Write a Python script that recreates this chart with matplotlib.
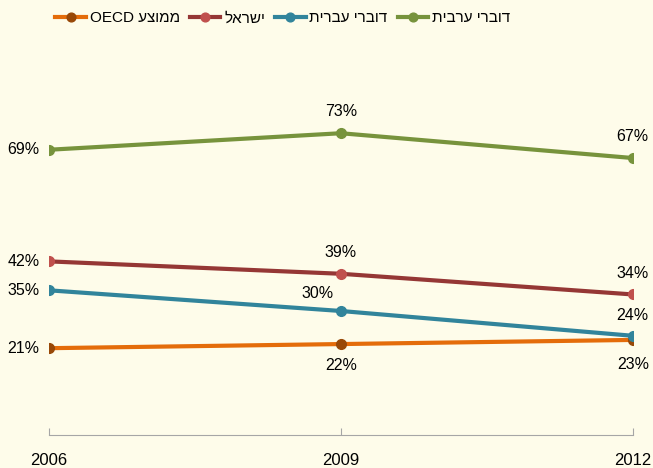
import matplotlib
matplotlib.use('Agg')
from matplotlib import pyplot as plt

# Share of students (percent) by group and year
years = [2006, 2009, 2012]
arabic = [69, 73, 67]
hebrew = [35, 30, 24]
israel = [42, 39, 34]
oecd = [21, 22, 23]

# Hebrew labels in visual (left-to-right) order, matplotlib has no bidi
def rtl(s):
    return s[::-1]

lbl_arabic = rtl('דוברי ערבית')
lbl_hebrew = rtl('דוברי עברית')
lbl_israel = rtl('ישראל')
lbl_oecd = 'OECD ' + rtl('ממוצע')

plt.rcParams['font.family'] = ['Liberation Sans', 'DejaVu Sans']
bg = '#FEFCEA'

fig = plt.figure(figsize=(6.53, 4.68), dpi=100, facecolor=bg)
ax = fig.add_axes([0.075, 0.0705, 0.894, 0.795])
ax.set_facecolor(bg)

x = [0, 1, 2]
lw = 3
ms = 7
ax.plot(x, oecd, '-o', color='#E46C0A', mfc='#984807', mec='#984807', lw=lw, ms=ms, label=lbl_oecd, zorder=3)
ax.plot(x, israel, '-o', color='#953735', mfc='#C0504D', mec='#C0504D', lw=lw, ms=ms, label=lbl_israel, zorder=3)
ax.plot(x, hebrew, '-o', color='#31849B', mfc='#31849B', mec='#31849B', lw=lw, ms=ms, label=lbl_hebrew, zorder=4)
ax.plot(x, arabic, '-o', color='#77933C', mfc='#77933C', mec='#77933C', lw=lw, ms=ms, label=lbl_arabic, zorder=3)

fs = 11.5
# data labels: 2006 left of point
for vals in (arabic, israel, hebrew, oecd):
    ax.annotate(f'{vals[0]}%', (0, vals[0]), xytext=(-7, 0), textcoords='offset points',
                ha='right', va='center', fontsize=fs)
# 2009
ax.annotate(f'{arabic[1]}%', (1, arabic[1]), xytext=(0, 10), textcoords='offset points', ha='center', va='bottom', fontsize=fs)
ax.annotate(f'{israel[1]}%', (1, israel[1]), xytext=(0, 10), textcoords='offset points', ha='center', va='bottom', fontsize=fs)
ax.annotate(f'{hebrew[1]}%', (1, hebrew[1]), xytext=(-5, 7), textcoords='offset points', ha='right', va='bottom', fontsize=fs)
ax.annotate(f'{oecd[1]}%', (1, oecd[1]), xytext=(0, -10), textcoords='offset points', ha='center', va='top', fontsize=fs)
# 2012
ax.annotate(f'{arabic[2]}%', (2, arabic[2]), xytext=(0, 10), textcoords='offset points', ha='center', va='bottom', fontsize=fs)
ax.annotate(f'{israel[2]}%', (2, israel[2]), xytext=(0, 10), textcoords='offset points', ha='center', va='bottom', fontsize=fs)
ax.annotate(f'{hebrew[2]}%', (2, hebrew[2]), xytext=(0, 9), textcoords='offset points', ha='center', va='bottom', fontsize=fs)
ax.annotate(f'{oecd[2]}%', (2, oecd[2]), xytext=(0, -12), textcoords='offset points', ha='center', va='top', fontsize=fs)

ax.set_xlim(0, 2)
ax.set_ylim(0, 90)
ax.set_xticks(x)
ax.set_xticklabels([str(y) for y in years], fontsize=12)
ax.set_yticks([])
for s in ('top', 'right', 'left'):
    ax.spines[s].set_visible(False)
ax.spines['bottom'].set_color('#A6A6A6')
ax.tick_params(axis='x', direction='in', length=5, color='#A6A6A6', pad=13)

leg = fig.legend(loc='upper center', bbox_to_anchor=(0.433, 1.005), ncol=4, frameon=False,
                 fontsize=11, handlelength=2.0, columnspacing=0.65, handletextpad=0.25,
                 markerscale=0.9)

fig.savefig('out.png', dpi=100, facecolor=bg)
